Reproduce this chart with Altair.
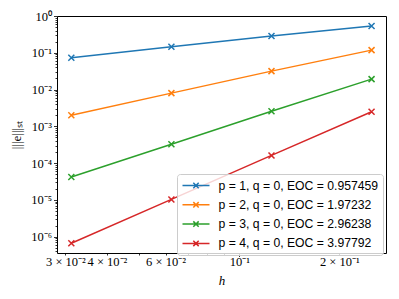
import altair as alt
import pandas as pd

# ---- data ----
h = [0.03125, 0.0625, 0.125, 0.25]
err_p1 = [0.073, 0.146, 0.285, 0.534]
err_p2 = [0.0020, 0.0080, 0.0317, 0.118]
err_p3 = [4.2e-5, 3.25e-4, 2.58e-3, 0.0192]
err_p4 = [6.65e-7, 1.03e-5, 1.62e-4, 2.5e-3]
series_labels = [
    "p = 1, q = 0, EOC = 0.957459",
    "p = 2, q = 0, EOC = 1.97232",
    "p = 3, q = 0, EOC = 2.96238",
    "p = 4, q = 0, EOC = 3.97792",
]
colors = ["#1f77b4", "#ff7f0e", "#2ca02c", "#d62728"]

# ---- tick values / labels ----
y_major = [1e-6, 1e-5, 1e-4, 1e-3, 1e-2, 1e-1, 1.0]
y_major_labels = ["10⁻⁶", "10⁻⁵", "10⁻⁴", "10⁻³", "10⁻²", "10⁻¹", "10⁰"]
y_minor = [m * 10.0 ** k for k in range(-7, 0) for m in range(2, 10) if 3.6e-7 <= m * 10.0 ** k <= 1]
x_major = [0.1]
x_major_labels = ["10⁻¹"]
x_minor = [0.03, 0.04, 0.05, 0.06, 0.07, 0.08, 0.09, 0.2]
x_minor_labels = ["3 × 10⁻²", "4 × 10⁻²", "", "6 × 10⁻²", "", "", "", "2 × 10⁻¹"]

x_domain = [0.0283, 0.2763]
y_domain = [3.6e-7, 1.0]

rows = []
for lab, errs in zip(series_labels, [err_p1, err_p2, err_p3, err_p4]):
    for hv, ev in zip(h, errs):
        rows.append({"h": hv, "err": ev, "label": lab})
df = pd.DataFrame(rows)


def label_expr(values, labels):
    vals = ",".join(repr(v) for v in values)
    labs = ",".join("'" + l + "'" for l in labels)
    return f"[{labs}][indexof([{vals}], datum.value)]"


serif = "Liberation Serif"
x_path = "M-1,-1L1,1M-1,1L1,-1"
legend_path = "M-1,0H3.5M0.8,-0.45L1.7,0.45M0.8,0.45L1.7,-0.45"

xscale = alt.Scale(type="log", domain=x_domain, nice=False)
yscale = alt.Scale(type="log", domain=y_domain, nice=False)
cscale = alt.Scale(domain=series_labels, range=colors)

lines = alt.Chart(df).mark_line(strokeWidth=1.5, clip=True).encode(
    x=alt.X("h:Q", scale=xscale, axis=alt.Axis(
        values=x_major, labelExpr=label_expr(x_major, x_major_labels),
        tickSize=3.5, labelPadding=-1, title="h", titleFontStyle="italic",
        titleFont=serif, titleFontSize=13, titleFontWeight="normal",
        titlePadding=6, orient="bottom", labelOverlap=False)),
    y=alt.Y("err:Q", scale=yscale, axis=alt.Axis(
        values=y_major, labelExpr=label_expr(y_major, y_major_labels),
        tickSize=3.5, labelPadding=2, title="|||e|||ₛₜ",
        titleFont=serif, titleFontSize=13, titleFontWeight="normal",
        titlePadding=7, orient="left", labelOverlap=False)),
    color=alt.Color("label:N", scale=cscale, legend=alt.Legend(
        title=None, orient="none", legendX=120, legendY=158,
        padding=4.5, strokeColor="#cccccc", fillColor="rgba(255,255,255,0.8)",
        cornerRadius=3, labelFont="Liberation Sans", labelFontSize=12.2,
        labelColor="black", labelLimit=300, symbolType=legend_path,
        symbolSize=144, symbolStrokeWidth=1.5, rowPadding=5.3, labelOffset=23)),
)

points = alt.Chart(df).mark_point(shape=x_path, size=36, filled=False,
                                  strokeWidth=1.5, opacity=1, clip=True).encode(
    x=alt.X("h:Q", scale=xscale, axis=alt.Axis(
        values=x_minor, labelExpr=label_expr(x_minor, x_minor_labels),
        tickSize=2, labelPadding=0.5, title=None, orient="bottom",
        labelOverlap=False)),
    y=alt.Y("err:Q", scale=yscale, axis=alt.Axis(
        values=y_minor, labels=False, tickSize=2, title=None, orient="left")),
    color=alt.Color("label:N", scale=cscale, legend=None),
)

chart = alt.layer(lines, points).resolve_scale(
    x="independent", y="independent"
).properties(
    width=329, height=237,
    autosize=alt.AutoSizeParams(type="none"),
    padding={"left": 49, "top": 8, "right": 5, "bottom": 40},
).configure_view(stroke="black", strokeWidth=1).configure_axis(
    domain=False, grid=False, tickColor="black", labelColor="black",
    labelFont=serif, labelFontSize=12.5, titleColor="black", tickWidth=0.8,
)

chart.save("out.html", embed_options={"renderer": "svg", "actions": False})
